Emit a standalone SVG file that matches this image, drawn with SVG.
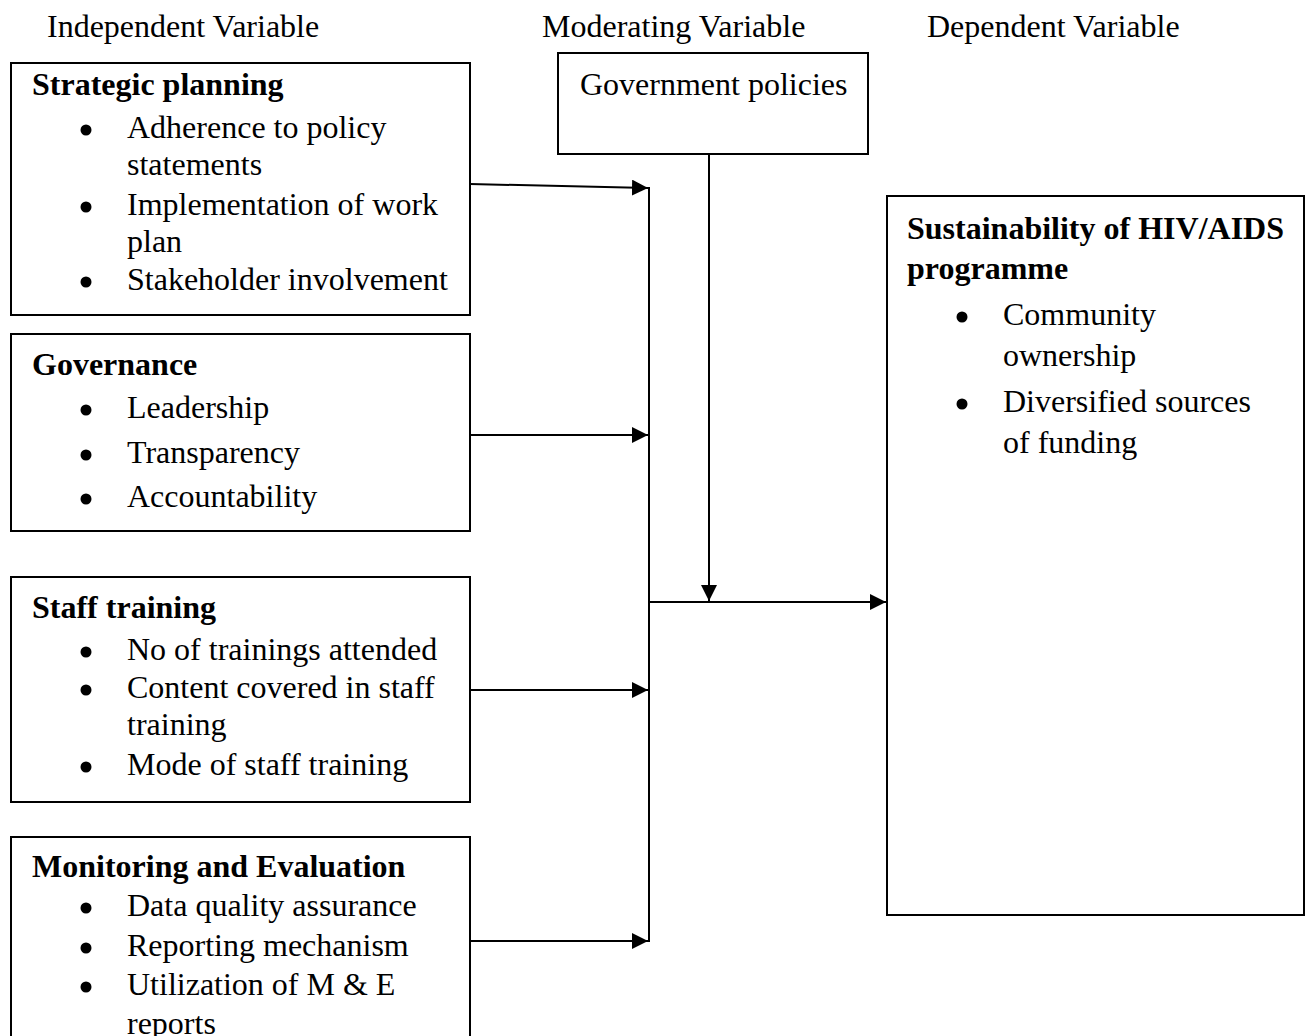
<svg xmlns="http://www.w3.org/2000/svg" width="1306" height="1036" viewBox="0 0 1306 1036">
<style>
text { font-family: "Liberation Serif", "Times New Roman", serif; font-size: 32px; fill: #000; }
.b { font-weight: bold; }
.bul { fill: #000; }
.box { fill: #fff; stroke: #000; stroke-width: 2; }
.ln { fill: none; stroke: #000; stroke-width: 2; }
</style>
<defs>
<marker id="ah" viewBox="0 0 16 16" refX="16" refY="8" markerWidth="16" markerHeight="16" markerUnits="userSpaceOnUse" orient="auto">
<path d="M0,0 L16,8 L0,16 Z" fill="#000"/>
</marker>
</defs>
<rect width="1306" height="1036" fill="#fff"/>
<g id="headings">
<text x="47" y="37">Independent Variable</text>
<text x="542" y="37">Moderating Variable</text>
<text x="927" y="37">Dependent Variable</text>
</g>
<g id="strategic-planning">
<rect class="box" x="11" y="63" width="459" height="252"/>
<text class="b" x="32" y="95">Strategic planning</text>
<circle class="bul" cx="86" cy="130" r="5.5"/><text x="127" y="138">Adherence to policy</text>
<text x="127" y="175">statements</text>
<circle class="bul" cx="86" cy="207" r="5.5"/><text x="127" y="215">Implementation of work</text>
<text x="127" y="252">plan</text>
<circle class="bul" cx="86" cy="282" r="5.5"/><text x="127" y="290">Stakeholder involvement</text>
</g>
<g id="governance">
<rect class="box" x="11" y="334" width="459" height="197"/>
<text class="b" x="32" y="375">Governance</text>
<circle class="bul" cx="86" cy="410" r="5.5"/><text x="127" y="418">Leadership</text>
<circle class="bul" cx="86" cy="455" r="5.5"/><text x="127" y="463">Transparency</text>
<circle class="bul" cx="86" cy="499" r="5.5"/><text x="127" y="507">Accountability</text>
</g>
<g id="staff-training">
<rect class="box" x="11" y="577" width="459" height="225"/>
<text class="b" x="32" y="618">Staff training</text>
<circle class="bul" cx="86" cy="652" r="5.5"/><text x="127" y="660">No of trainings attended</text>
<circle class="bul" cx="86" cy="690" r="5.5"/><text x="127" y="698">Content covered in staff</text>
<text x="127" y="735">training</text>
<circle class="bul" cx="86" cy="767" r="5.5"/><text x="127" y="775">Mode of staff training</text>
</g>
<g id="monitoring-evaluation">
<rect class="box" x="11" y="837" width="459" height="230"/>
<text class="b" x="32" y="877">Monitoring and Evaluation</text>
<circle class="bul" cx="86" cy="908" r="5.5"/><text x="127" y="916">Data quality assurance</text>
<circle class="bul" cx="86" cy="948" r="5.5"/><text x="127" y="956">Reporting mechanism</text>
<circle class="bul" cx="86" cy="987" r="5.5"/><text x="127" y="995">Utilization of M &amp; E</text>
<text x="127" y="1034">reports</text>
</g>
<g id="government-policies">
<rect class="box" x="558" y="53" width="310" height="101"/>
<text x="580" y="95">Government policies</text>
</g>
<g id="sustainability">
<rect class="box" x="887" y="196" width="417" height="719"/>
<text class="b" x="907" y="239">Sustainability of HIV/AIDS</text>
<text class="b" x="907" y="279">programme</text>
<circle class="bul" cx="962" cy="317" r="5.5"/><text x="1003" y="325">Community</text>
<text x="1003" y="366">ownership</text>
<circle class="bul" cx="962" cy="404" r="5.5"/><text x="1003" y="412">Diversified sources</text>
<text x="1003" y="453">of funding</text>
</g>
<g id="connectors">
<line class="ln" x1="470" y1="184" x2="648" y2="188" marker-end="url(#ah)"/>
<line class="ln" x1="470" y1="435" x2="648" y2="435" marker-end="url(#ah)"/>
<line class="ln" x1="470" y1="690" x2="648" y2="690" marker-end="url(#ah)"/>
<line class="ln" x1="470" y1="941" x2="648" y2="941" marker-end="url(#ah)"/>
<line class="ln" x1="649" y1="187" x2="649" y2="942"/>
<line class="ln" x1="649" y1="602" x2="886" y2="602" marker-end="url(#ah)"/>
<line class="ln" x1="709" y1="154" x2="709" y2="601" marker-end="url(#ah)"/>
</g>
</svg>
